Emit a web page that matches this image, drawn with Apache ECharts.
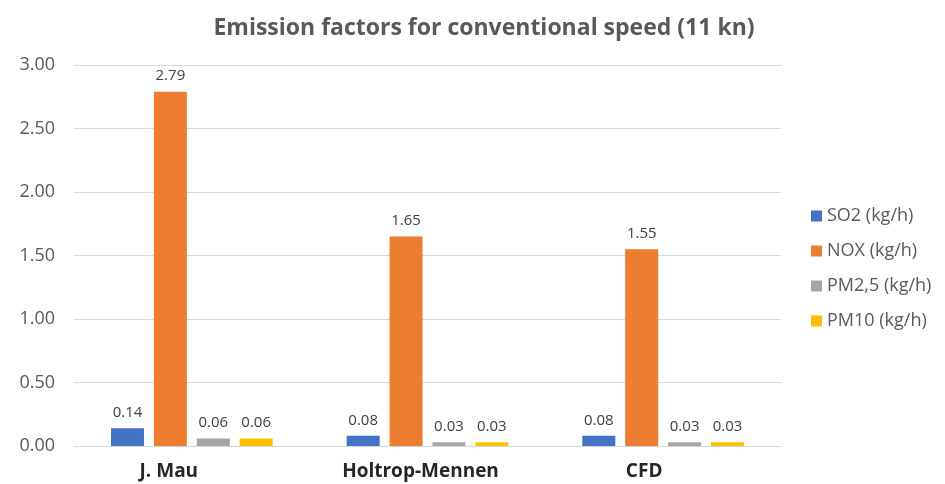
<!DOCTYPE html>
<html>
<head>
<meta charset="utf-8">
<script src="https://cdn.jsdelivr.net/npm/echarts@6/dist/echarts.min.js"></script>
<style>
html, body { margin: 0; padding: 0; background: #fff; }
#chart { width: 945px; height: 484px; }
</style>
</head>
<body>
<div id="chart"></div>
<script>
var categories = ["J. Mau", "Holtrop-Mennen", "CFD"];
var so2 = [0.14, 0.08, 0.08];
var nox = [2.79, 1.65, 1.55];
var pm25 = [0.06, 0.03, 0.03];
var pm10 = [0.06, 0.03, 0.03];
var seriesNames = ["SO2 (kg/h)", "NOX (kg/h)", "PM2,5 (kg/h)", "PM10 (kg/h)"];
var colors = ["#4472C4", "#ED7D31", "#A5A5A5", "#FFC000"];

var font = "'Open Sans', 'Noto Sans', sans-serif";

// category labels sit a little left of their bar groups in the original
var catPad = { "J. Mau": 46, "Holtrop-Mennen": 14, "CFD": 38 };

function mkSeries(name, data, color) {
    return {
        name: name,
        type: "bar",
        data: data,
        barWidth: 33,
        barGap: "30%",
        itemStyle: { color: color },
        label: {
            show: true,
            position: "top",
            distance: 8,
            color: "#404040",
            fontSize: 15,
            fontFamily: font,
            formatter: function (p) { return p.value.toFixed(2); }
        }
    };
}

var chart = echarts.init(document.getElementById("chart"));
var option = {
    animation: false,
    color: colors,
    title: {
        text: "Emission factors for conventional speed (11 kn)",
        left: 479,
        textAlign: "center",
        top: 12,
        textStyle: { color: "#595959", fontSize: 23, fontWeight: "bold", fontFamily: font }
    },
    legend: {
        orient: "vertical",
        left: 806,
        top: 202,
        itemWidth: 11,
        itemHeight: 11,
        itemGap: 17,
        icon: "rect",
        textStyle: { color: "#595959", fontSize: 18, fontFamily: font },
        data: seriesNames
    },
    grid: { left: 74, right: 164, top: 65, bottom: 38 },
    xAxis: {
        type: "category",
        data: categories,
        axisLine: { lineStyle: { color: "#d9d9d9" } },
        axisTick: { show: false },
        axisLabel: {
            margin: 16,
            formatter: function (v) { return "{c" + categories.indexOf(v) + "|" + v + "}"; },
            rich: {
                c0: { color: "#262626", fontSize: 19, fontWeight: "bold", fontFamily: font, padding: [0, catPad["J. Mau"], 0, 0] },
                c1: { color: "#262626", fontSize: 19, fontWeight: "bold", fontFamily: font, padding: [0, catPad["Holtrop-Mennen"], 0, 0] },
                c2: { color: "#262626", fontSize: 19, fontWeight: "bold", fontFamily: font, padding: [0, catPad["CFD"], 0, 0] }
            }
        }
    },
    yAxis: {
        type: "value",
        min: 0,
        max: 3,
        interval: 0.5,
        axisLine: { show: false },
        axisTick: { show: false },
        splitLine: { lineStyle: { color: "#d9d9d9" } },
        axisLabel: {
            color: "#595959", fontSize: 18, fontFamily: font, margin: 19,
            formatter: function (v) { return v.toFixed(2); }
        }
    },
    series: [
        mkSeries(seriesNames[0], so2, colors[0]),
        mkSeries(seriesNames[1], nox, colors[1]),
        mkSeries(seriesNames[2], pm25, colors[2]),
        mkSeries(seriesNames[3], pm10, colors[3])
    ]
};
chart.setOption(option);
window.addEventListener("resize", chart.resize);
</script>
</body>
</html>
